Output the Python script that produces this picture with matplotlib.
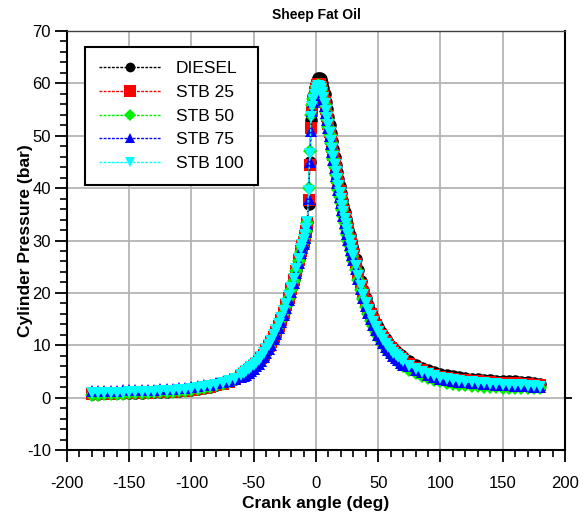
import matplotlib
matplotlib.use("Agg")
import matplotlib.pyplot as plt
from matplotlib.ticker import MultipleLocator

plt.rcParams['font.family'] = ['Liberation Sans', 'DejaVu Sans']
plt.rcParams['axes.unicode_minus'] = False

# crank angle (deg), shared by all fuels: coarse in the flat parts, fine near TDC
crank = ([-180, -175, -170, -165, -160, -155, -150, -145, -140, -135, -130, -125, -120,
          -115, -110, -105, -100, -95, -90, -85, -80, -75, -70, -65, -60]
         + [-58, -56, -54, -52, -50, -48, -46, -44, -42, -40, -38, -36, -34, -32, -30,
            -28, -26, -24, -22, -20, -18, -16, -14, -12]
         + [-11, -10, -9, -8, -7, -6, -5, -4, -3, -2, -1, 0, 1, 2, 3, 4, 5, 6, 7, 8, 9,
            10, 11, 12, 13, 14, 15, 16, 17, 18, 19, 20, 21, 22, 23, 24, 25, 26, 27, 28, 29, 30]
         + [32, 34, 36, 38, 40, 42, 44, 46, 48, 50, 52, 54, 56, 58, 60, 62, 64, 66, 68, 70]
         + [75, 80, 85, 90, 95, 100, 105, 110, 115, 120, 125, 130, 135, 140, 145, 150,
            155, 160, 165, 170, 175, 180])

# cylinder pressure (bar)
diesel = ([0.75, 0.77, 0.8, 0.82, 0.85, 0.87, 0.9, 0.93, 0.95, 1.0, 1.05, 1.1, 1.15,
           1.22, 1.3, 1.4, 1.52, 1.68, 1.87, 2.08, 2.38, 2.7, 3.1, 3.6, 4.2]
          + [4.6, 4.9, 5.3, 5.7, 6.1, 6.6, 7.1, 7.7, 8.4, 9.2, 10.0, 10.8, 11.8, 12.8, 13.9,
             15.1, 16.4, 17.8, 19.3, 20.9, 22.6, 24.4, 26.4, 28.2]
          + [29.1, 30.0, 31.0, 32.1, 33.5, 37.0, 45.0, 53.0, 55.8, 57.6, 58.9,
             59.8, 60.5, 61.0, 61.1, 60.8, 60.1, 59.1, 57.9, 56.5, 55.1, 53.6, 52.1, 50.6,
             49.0, 47.5, 46.0, 44.5, 43.1, 41.7, 40.4, 39.1, 37.8, 36.6, 35.4, 34.2, 33.1,
             32.0, 31.0, 30.0, 29.0, 28.1]
          + [26.4, 24.3, 22.3, 20.6, 19.0, 17.6, 16.4, 15.3, 14.3, 13.4, 12.6, 11.8, 11.1,
             10.5, 9.9, 9.4, 8.9, 8.5, 8.1, 7.7]
          + [6.9, 6.2, 5.7, 5.2, 4.8, 4.5, 4.3, 4.1, 3.9, 3.75, 3.6, 3.5, 3.4, 3.3, 3.25,
             3.2, 3.15, 3.1, 3.0, 2.9, 2.75, 2.6])

stb25 = ([0.7, 0.72, 0.75, 0.77, 0.8, 0.82, 0.85, 0.88, 0.9, 0.95, 1.0, 1.05, 1.1,
          1.17, 1.25, 1.35, 1.47, 1.62, 1.82, 2.02, 2.32, 2.65, 3.0, 3.5, 4.1]
         + [4.5, 4.8, 5.2, 5.6, 6.0, 6.5, 7.0, 7.6, 8.2, 9.0, 9.8, 10.6, 11.6, 12.6, 13.7,
            14.9, 16.2, 17.6, 19.1, 20.7, 22.4, 24.2, 26.2, 28.0]
         + [28.9, 29.8, 30.8, 31.9, 33.4, 37.7, 44.4, 51.4, 55.0, 56.9, 58.3,
            59.0, 59.6, 59.9, 59.9, 59.4, 58.5, 57.6, 56.5, 55.2, 53.8, 52.3, 50.8, 49.3,
            47.8, 46.3, 44.8, 43.4, 42.0, 40.7, 39.4, 38.2, 36.9, 35.7, 34.5, 33.4, 32.3,
            31.3, 30.3, 29.3, 28.3, 27.4]
         + [25.5, 23.5, 21.6, 19.9, 18.4, 17.1, 15.9, 14.8, 13.8, 12.8, 12.0, 11.3, 10.6,
            10.0, 9.4, 8.9, 8.4, 8.0, 7.6, 7.2]
         + [6.4, 5.7, 5.2, 4.75, 4.35, 4.0, 3.8, 3.6, 3.45, 3.3, 3.2, 3.1, 3.0, 2.95, 2.88,
            2.8, 2.75, 2.7, 2.65, 2.6, 2.5, 2.4])

stb50 = ([0.55, 0.57, 0.6, 0.65, 0.7, 0.75, 0.8, 0.85, 0.9, 0.95, 1.0, 1.05, 1.1,
          1.17, 1.25, 1.35, 1.47, 1.62, 1.82, 2.02, 2.32, 2.62, 2.97, 3.47, 4.07]
         + [4.4, 4.7, 5.1, 5.5, 5.9, 6.4, 6.9, 7.5, 8.1, 8.9, 9.7, 10.5, 11.5, 12.5, 13.6,
            14.8, 16.1, 17.5, 19.0, 20.6, 22.3, 24.1, 26.1, 27.9]
         + [28.8, 29.7, 30.7, 31.8, 33.3, 40.0, 47.0, 54.0, 55.8, 57.0, 58.0,
            58.8, 59.3, 59.6, 59.5, 58.8, 58.0, 57.1, 55.9, 54.6, 53.2, 51.7, 50.2, 48.6,
            47.1, 45.5, 44.0, 42.5, 41.1, 39.7, 38.4, 37.1, 35.8, 34.6, 33.4, 32.2, 31.1,
            30.0, 29.0, 28.0, 27.0, 26.1]
         + [24.3, 22.4, 20.5, 18.8, 17.3, 15.9, 14.7, 13.6, 12.6, 11.7, 10.9, 10.1, 9.4,
            8.8, 8.2, 7.7, 7.2, 6.8, 6.4, 6.0]
         + [5.3, 4.7, 4.2, 3.8, 3.4, 3.1, 2.85, 2.65, 2.5, 2.35, 2.25, 2.15, 2.05, 2.0, 1.95,
            1.9, 1.85, 1.85, 1.85, 1.85, 1.9, 1.9])

stb75 = ([1.25, 1.27, 1.3, 1.32, 1.35, 1.37, 1.4, 1.43, 1.45, 1.5, 1.55, 1.6, 1.65,
          1.72, 1.8, 1.9, 2.02, 2.17, 2.35, 2.5, 2.7, 2.95, 3.2, 3.6, 3.95]
         + [4.1, 4.4, 4.7, 5.1, 5.5, 6.0, 6.5, 7.0, 7.7, 8.5, 9.3, 10.1, 11.1, 12.1, 13.2,
            14.4, 15.7, 17.1, 18.6, 20.2, 21.9, 23.8, 25.8, 27.6]
         + [28.5, 29.4, 30.5, 31.6, 33.2, 38.0, 45.0, 51.0, 54.8, 56.5, 57.6,
            58.5, 59.1, 59.5, 59.4, 58.6, 57.8, 56.9, 55.7, 54.4, 53.0, 51.5, 50.0, 48.4,
            46.9, 45.3, 43.8, 42.4, 41.0, 39.6, 38.3, 37.1, 35.8, 34.6, 33.4, 32.3, 31.2,
            30.1, 29.1, 28.1, 27.2, 26.3]
         + [24.6, 22.6, 20.7, 19.0, 17.5, 16.2, 15.0, 13.9, 12.9, 12.0, 11.2, 10.4, 9.7,
            9.1, 8.5, 8.0, 7.5, 7.1, 6.7, 6.3]
         + [6.0, 5.3, 4.8, 4.35, 3.95, 3.6, 3.4, 3.2, 3.05, 2.9, 2.8, 2.7, 2.62, 2.55, 2.48,
            2.4, 2.35, 2.3, 2.25, 2.2, 2.1, 2.0])

stb100 = ([0.85, 0.87, 0.9, 0.92, 0.95, 0.97, 1.0, 1.03, 1.05, 1.1, 1.15, 1.2, 1.25,
           1.32, 1.4, 1.5, 1.65, 1.8, 2.0, 2.2, 2.5, 2.8, 3.15, 3.65, 4.25]
          + [4.7, 5.0, 5.4, 5.8, 6.2, 6.7, 7.2, 7.8, 8.5, 9.3, 10.1, 10.9, 11.9, 12.9, 14.0,
             15.2, 16.5, 17.9, 19.4, 21.0, 22.7, 24.5, 26.5, 28.3]
          + [29.2, 30.1, 31.1, 32.2, 33.6, 39.5, 46.5, 53.5, 55.5, 56.8, 57.8,
             58.6, 59.2, 59.5, 59.4, 58.9, 58.1, 57.2, 56.1, 54.8, 53.4, 52.0, 50.5, 49.0,
             47.5, 46.0, 44.5, 43.1, 41.7, 40.4, 39.1, 37.9, 36.6, 35.4, 34.2, 33.1, 32.0,
             31.0, 30.0, 29.0, 28.0, 27.1]
          + [25.2, 23.2, 21.3, 19.6, 18.1, 16.8, 15.6, 14.5, 13.5, 12.5, 11.7, 11.0, 10.3,
             9.7, 9.1, 8.6, 8.1, 7.7, 7.3, 6.9]
          + [6.1, 5.4, 4.9, 4.45, 4.05, 3.7, 3.5, 3.3, 3.15, 3.0, 2.9, 2.8, 2.72, 2.65, 2.58,
             2.5, 2.45, 2.4, 2.35, 2.3, 2.2, 2.1])

labels = ['DIESEL', 'STB 25', 'STB 50', 'STB 75', 'STB 100']


def main():
    fig = plt.figure(figsize=(5.84, 5.16), dpi=100)
    ax = fig.add_axes([0.1147, 0.1279, 0.8527, 0.812])

    series = [diesel, stb25, stb50, stb75, stb100]
    colors = ['black', 'red', '#00ee00', 'blue', 'cyan']
    markers = ['o', 's', 'D', '^', 'v']
    msizes = [9, 9, 7, 8.5, 9]            # in the plot
    leg_sizes = [7, 8.5, 6, 7.5, 7.5]     # in the legend
    for p, lab, c, m, ms in zip(series, labels, colors, markers, msizes):
        ax.plot(crank, p, color=c, marker=m, markersize=ms, markeredgewidth=0,
                linestyle=(0, (2, 1)), linewidth=1, label=lab)

    ax.set_xlim(-200, 200)
    ax.set_ylim(-10, 70)
    ax.xaxis.set_major_locator(MultipleLocator(50))
    ax.xaxis.set_minor_locator(MultipleLocator(10))
    ax.yaxis.set_major_locator(MultipleLocator(10))
    ax.yaxis.set_minor_locator(MultipleLocator(2))
    ax.tick_params(which='major', direction='out', length=8.5, width=1.3, labelsize=12)
    ax.tick_params(which='minor', direction='out', length=4.8, width=1.2)
    ax.tick_params(axis='x', which='major', pad=10)
    ax.tick_params(axis='y', which='major', pad=3)
    ax.grid(True, which='major', color='#b4b4b4', linewidth=1.3)
    ax.set_axisbelow(True)

    for side in ['left', 'bottom', 'right']:
        ax.spines[side].set_linewidth(1.5)
        ax.spines[side].set_color('black')
    ax.spines['top'].set_linewidth(1.0)
    ax.spines['top'].set_color('#404040')

    # single tick on the right side at zero
    ax2 = ax.twinx()
    ax2.set_ylim(ax.get_ylim())
    ax2.set_yticks([0])
    ax2.set_yticklabels([])
    ax2.tick_params(axis='y', direction='out', length=5, width=1.3)
    for s in ax2.spines.values():
        s.set_visible(False)

    ax.set_title('Sheep Fat Oil', fontsize=10, fontweight='bold', pad=9)
    ax.set_xlabel('Crank angle (deg)', fontsize=12.5, fontweight='bold', labelpad=4)
    ax.set_ylabel('Cylinder Pressure (bar)', fontsize=12.5, fontweight='bold', labelpad=-4)

    leg = ax.legend(loc='upper left', bbox_to_anchor=(0.036, 0.962), borderaxespad=0,
                    fontsize=12.5, handlelength=3.6, labelspacing=0.5, handletextpad=0.85,
                    borderpad=0.8, fancybox=False, framealpha=1, edgecolor='black')
    leg.get_frame().set_linewidth(1.5)
    for h, s in zip(leg.legend_handles, leg_sizes):
        h.set_markersize(s)

    fig.savefig('out.png', dpi=100)
    plt.close(fig)


if __name__ == '__main__':
    main()
